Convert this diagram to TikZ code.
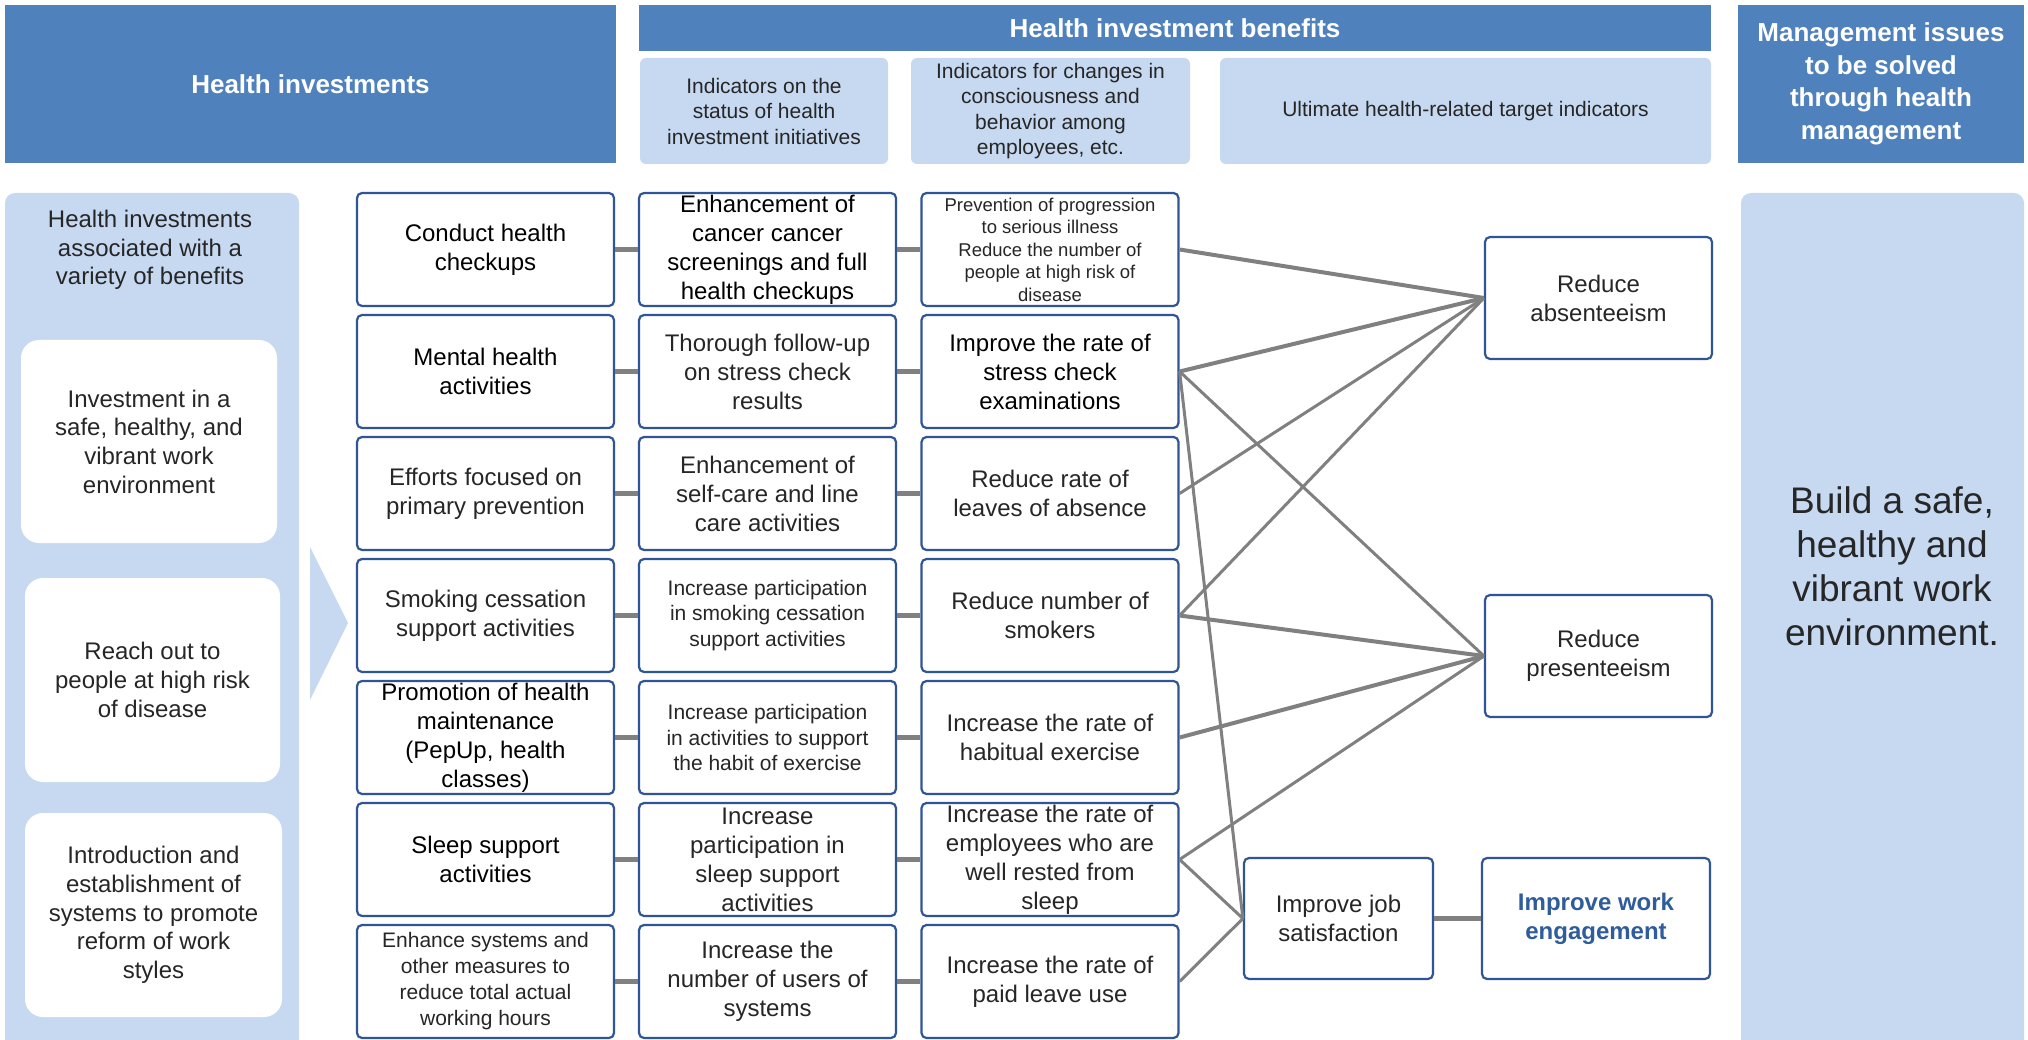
\documentclass[tikz,border=0pt]{standalone}
\usepackage{fontspec}
\setmainfont{Liberation Sans}
\definecolor{hdr}{HTML}{4F81BD}
\definecolor{lite}{HTML}{C6D9F1}
\definecolor{bdr}{HTML}{2F5597}
\definecolor{conn}{HTML}{808080}
\definecolor{txt}{HTML}{262626}
\definecolor{eng}{HTML}{2F5C9A}
\begin{document}
\begin{tikzpicture}[x=1pt,y=-1pt,
  hdrbox/.style={fill=hdr, text=white, align=center, inner sep=0pt, font=\bfseries\fontsize{26}{32.5}\selectfont},
  subbox/.style={fill=lite, rounded corners=6pt, text=txt, align=center, inner sep=0pt, minimum height=106pt, font=\fontsize{21}{25.5}\selectfont},
  wbox/.style={fill=white, rounded corners=18pt, text=txt, align=center, inner sep=0pt, font=\fontsize{24}{28.7}\selectfont},
  box/.style={draw=bdr, line width=2.2pt, fill=white, rounded corners=5pt, minimum width=257pt, minimum height=113pt, align=center, inner sep=0pt, text=txt, font=\fontsize{24}{29}\selectfont},
  blk/.style={text=black},
  small/.style={font=\fontsize{21}{25.5}\selectfont},
  tiny/.style={font=\fontsize{18.5}{22.5}\selectfont},
  link/.style={draw=conn, line width=4.5pt},
  thickc/.style={draw=conn, line width=4pt},
  thinc/.style={draw=conn, line width=3pt}]
\useasboundingbox (0,0) rectangle (2028,1040);
\clip (0,0) rectangle (2028,1040);

% headers
\node[hdrbox, minimum width=611pt, minimum height=158pt] (hL) at (310.5,84) {Health investments};
\node[hdrbox, minimum width=1072pt, minimum height=46pt] (hB) at (1175,28) {Health investment benefits};
\node[hdrbox, minimum width=286pt, minimum height=158pt] (hM) at (1881,84) {Management issues\\to be solved\\through health\\management};
\node[subbox, minimum width=248pt] (s1) at (764,111) {Indicators on the\\status of health\\investment initiatives};
\node[subbox, minimum width=279pt] (s2) at (1050.5,111) {Indicators for changes in\\consciousness and\\behavior among\\employees, etc.};
\node[subbox, minimum width=491pt] (s3) at (1465.5,111) {Ultimate health-related target indicators};

% side panels
\fill[lite, rounded corners=10pt] (5,193) rectangle (299,1055);
\fill[lite, rounded corners=10pt] (1741,193) rectangle (2024,1055);
\fill[lite] (310,547) -- (348,623) -- (310,700) -- cycle;

\node[text=txt, align=center, font=\fontsize{24}{28.5}\selectfont] (lt) at (150,250) {Health investments\\associated with a\\variety of benefits};
\node[wbox, minimum width=256pt, minimum height=203pt] (la) at (149,441.5) {Investment in a\\safe, healthy, and\\vibrant work\\environment};
\node[wbox, minimum width=255pt, minimum height=204pt] (lb) at (152.5,680) {Reach out to\\people at high risk\\of disease};
\node[wbox, minimum width=257pt, minimum height=204pt] (lc) at (153.5,915) {Introduction and\\establishment of\\systems to promote\\reform of work\\styles};

\node[text=txt, align=center, font=\fontsize{37}{44}\selectfont] (goal) at (1892,566) {Build a safe,\\healthy and\\vibrant work\\environment.};

% column 1
\node[box, blk] (a1) at (485.5,249.5) {Conduct health\\checkups};
\node[box, blk] (a2) at (485.5,371.5) {Mental health\\activities};
\node[box] (a3) at (485.5,493.5) {Efforts focused on\\primary prevention};
\node[box] (a4) at (485.5,615.5) {Smoking cessation\\support activities};
\node[box, blk] (a5) at (485.5,737.5) {Promotion of health\\maintenance\\(PepUp, health\\classes)};
\node[box, blk] (a6) at (485.5,859.5) {Sleep support\\activities};
\node[box, small, font=\fontsize{21}{26}\selectfont] (a7) at (485.5,981.5) {Enhance systems and\\other measures to\\reduce total actual\\working hours};

% column 2
\node[box, blk] (b1) at (767.5,249.5) {Enhancement of\\cancer cancer\\screenings and full\\health checkups};
\node[box] (b2) at (767.5,371.5) {Thorough follow-up\\on stress check\\results};
\node[box] (b3) at (767.5,493.5) {Enhancement of\\self-care and line\\care activities};
\node[box, small] (b4) at (767.5,615.5) {Increase participation\\in smoking cessation\\support activities};
\node[box, small] (b5) at (767.5,737.5) {Increase participation\\in activities to support\\the habit of exercise};
\node[box] (b6) at (767.5,859.5) {Increase\\participation in\\sleep support\\activities};
\node[box] (b7) at (767.5,981.5) {Increase the\\number of users of\\systems};

% column 3
\node[box, tiny] (c1) at (1050,249.5) {Prevention of progression\\to serious illness\\Reduce the number of\\people at high risk of\\disease};
\node[box, blk] (c2) at (1050,371.5) {Improve the rate of\\stress check\\examinations};
\node[box] (c3) at (1050,493.5) {Reduce rate of\\leaves of absence};
\node[box] (c4) at (1050,615.5) {Reduce number of\\smokers};
\node[box] (c5) at (1050,737.5) {Increase the rate of\\habitual exercise};
\node[box] (c6) at (1050,859.5) {Increase the rate of\\employees who are\\well rested from\\sleep};
\node[box] (c7) at (1050,981.5) {Increase the rate of\\paid leave use};

% outcome boxes
\node[box, minimum width=227pt, minimum height=122pt] (abs) at (1598.5,298) {Reduce\\absenteeism};
\node[box, minimum width=227pt, minimum height=122pt] (pres) at (1598.5,656) {Reduce\\presenteeism};
\node[box, minimum width=189pt, minimum height=121pt] (job) at (1338.5,918.5) {Improve job\\satisfaction};
\node[box, minimum width=228pt, minimum height=121pt, text=eng, font=\bfseries\fontsize{24}{29}\selectfont] (eng) at (1596,918.5) {Improve work\\engagement};

% short links
\foreach \i in {1,...,7}{
  \draw[link] (a\i.east) -- (b\i.west);
  \draw[link] (b\i.east) -- (c\i.west);
}
\draw[link] (job.east) -- (eng.west);

% cross links
\draw[thickc] (c1.east) -- (abs.west);
\draw[thickc] (c2.east) -- (abs.west);
\draw[thinc] (c2.east) -- (pres.west);
\draw[thinc] (c2.east) -- (job.west);
\draw[thinc] (c3.east) -- (abs.west);
\draw[thinc] (c4.east) -- (abs.west);
\draw[thickc] (c4.east) -- (pres.west);
\draw[thickc] (c5.east) -- (pres.west);
\draw[thinc] (c6.east) -- (pres.west);
\draw[thinc] (c6.east) -- (job.west);
\draw[thinc] (c7.east) -- (job.west);
\end{tikzpicture}
\end{document}
